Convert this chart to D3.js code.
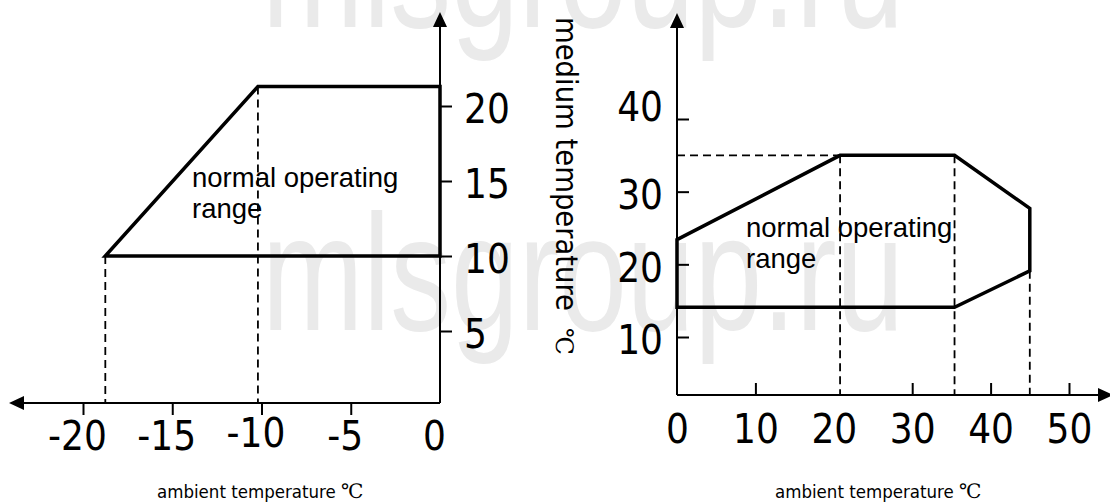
<!DOCTYPE html>
<html>
<head>
<meta charset="utf-8">
<script src="https://cdn.jsdelivr.net/npm/d3@7"></script>
<style>
  html, body { margin: 0; padding: 0; background: #fff; }
  svg { display: block; }
</style>
</head>
<body>
<svg id="chart" width="1110" height="504"></svg>
<script>
// ---------------- data ----------------
// Left chart (ambient -20..0 °C, medium 5..20 °C)
const leftXTicks = [-20, -15, -10, -5, 0];
const leftYTicks = [5, 10, 15, 20];
const leftRangeX = [-18.75, -10.2, 0, 0];      // polygon vertices, ambient temperature
const leftRangeY = [10, 21.3, 21.3, 10];        // polygon vertices, medium temperature
const leftGuideX = [-18.75, -10.2];             // dashed verticals
const leftGuideY = [10, 21.3];

// Right chart (ambient 0..50 °C, medium 10..40 °C)
const rightXTicks = [0, 10, 20, 30, 40, 50];
const rightYTicks = [10, 20, 30, 40];
const rightRangeX = [0, 20.8, 35.4, 45, 45, 35.4, 0];
const rightRangeY = [23.4, 35, 35, 27.7, 19.1, 14.1, 14.1];
const rightGuideX = [20.8, 35.4, 45];
const rightGuideY = [35, 35, 19.1];

const rangeLabel = ["normal operating", "range"];
const xTitle = "ambient temperature";
const yTitle = "medium temperature";
const unit = "\u2103";
const watermark = "mlsgroup.ru";

// ---------------- layout ----------------
const svg = d3.select("#chart");
const numFont = "'DejaVu Sans Condensed', 'DejaVu Sans', sans-serif";
const numSize = 40;
// small hand-drawn offsets of individual tick labels in the original (px)
const leftXLabelNudge = { "-10": -3 };
const rightYLabelNudge = { "40": -15 };

// watermarks (behind)
const wm = svg.append("g").attr("fill", "#eaeaea")
  .attr("font-family", "'Liberation Sans', Arial, sans-serif").attr("font-size", 165);
wm.append("text").attr("x", 262).attr("y", 330).attr("textLength", 642)
  .attr("lengthAdjust", "spacingAndGlyphs").text(watermark);
wm.append("text").attr("x", 262).attr("y", 27).attr("textLength", 642)
  .attr("lengthAdjust", "spacingAndGlyphs").text(watermark);

// scales
const xL = d3.scaleLinear().domain([-20, 0]).range([83, 440]);
const yL = d3.scaleLinear().domain([5, 20]).range([331, 106]);
const xR = d3.scaleLinear().domain([0, 50]).range([677, 1069]);
const yR = d3.scaleLinear().domain([10, 40]).range([337, 119]);

const L = { x0: 440, axisY: 403, top: 12, left: 9 };
const R = { x0: 677, axisY: 395, top: 13, right: 1113 };

function arrowHead(g, tipX, tipY, dir) {
  const len = 15, half = 7;
  let pts;
  if (dir === "up") pts = [[tipX, tipY], [tipX - half, tipY + len], [tipX + half, tipY + len]];
  if (dir === "left") pts = [[tipX, tipY], [tipX + len, tipY - half], [tipX + len, tipY + half]];
  if (dir === "right") pts = [[tipX, tipY], [tipX - len, tipY - half], [tipX - len, tipY + half]];
  g.append("path").attr("d", "M" + pts.join("L") + "Z").attr("fill", "#000");
}

function styleAxis(g) {
  g.select(".domain").remove();
  g.selectAll(".tick line").attr("stroke", "#000").attr("stroke-width", 2);
  g.selectAll(".tick text").attr("fill", "#000")
    .attr("font-family", numFont).attr("font-size", numSize);
}

// ---------- LEFT CHART ----------
const gl = svg.append("g");
gl.selectAll("line.guide").data(leftGuideX).enter().append("line")
  .attr("x1", d => xL(d)).attr("x2", d => xL(d))
  .attr("y1", (d, i) => yL(leftGuideY[i])).attr("y2", L.axisY)
  .attr("stroke", "#000").attr("stroke-width", 1.8).attr("stroke-dasharray", "8,5");

gl.append("line").attr("x1", L.x0).attr("x2", L.left + 14).attr("y1", L.axisY).attr("y2", L.axisY)
  .attr("stroke", "#000").attr("stroke-width", 2);
arrowHead(gl, L.left, L.axisY, "left");
gl.append("line").attr("x1", L.x0).attr("x2", L.x0).attr("y1", L.axisY).attr("y2", L.top + 14)
  .attr("stroke", "#000").attr("stroke-width", 2);
arrowHead(gl, L.x0, L.top, "up");

const lxAxis = gl.append("g").attr("transform", `translate(0,${L.axisY})`)
  .call(d3.axisBottom(xL).tickValues(leftXTicks).tickSize(12));
styleAxis(lxAxis);
lxAxis.selectAll(".tick").filter(d => d === 0).select("line").remove();
lxAxis.selectAll(".tick text").attr("y", d => 47 + (leftXLabelNudge[d] || 0)).attr("dy", 0).attr("x", -6)
  .text(d => d < 0 ? "-" + Math.abs(d) : d);

const lyAxis = gl.append("g").attr("transform", `translate(${L.x0},0)`)
  .call(d3.axisRight(yL).tickValues(leftYTicks).tickSize(12));
styleAxis(lyAxis);
lyAxis.selectAll(".tick text").attr("x", 24).attr("dy", "0.42em").attr("text-anchor", "start");

const lpts = leftRangeX.map((x, i) => [xL(x), yL(leftRangeY[i])]);
gl.append("path").attr("d", d3.line()(lpts) + "Z")
  .attr("fill", "none").attr("stroke", "#000").attr("stroke-width", 3.5)
  .attr("stroke-linejoin", "miter");

const lt = gl.append("text").attr("font-family", "'Liberation Sans', Arial, sans-serif")
  .attr("font-size", 27.5).attr("fill", "#000");
lt.selectAll("tspan").data(rangeLabel).enter().append("tspan")
  .attr("x", 192).attr("y", (d, i) => 187 + i * 31).text(d => d);

const lxt = gl.append("text").attr("x", 157).attr("y", 498)
  .attr("font-family", numFont).attr("font-size", 18.5).attr("fill", "#000");
lxt.append("tspan").text(xTitle + " ");
lxt.append("tspan").attr("font-family", "'DejaVu Serif', 'Noto Sans CJK SC', serif")
  .attr("font-size", 20).text(unit);

// ---------- Y TITLE (between charts) ----------
const yt = svg.append("text").attr("transform", "translate(556,17) rotate(90)")
  .attr("font-family", numFont).attr("font-size", 30.5).attr("fill", "#000");
yt.append("tspan").text(yTitle);
yt.append("tspan").attr("x", 311).attr("font-family", "'DejaVu Serif', 'Noto Sans CJK SC', serif")
  .attr("font-size", 24).text(unit);

// ---------- RIGHT CHART ----------
const gr = svg.append("g");
gr.append("line").attr("x1", R.x0).attr("x2", xR(rightGuideX[0]))
  .attr("y1", yR(rightGuideY[0])).attr("y2", yR(rightGuideY[0]))
  .attr("stroke", "#000").attr("stroke-width", 1.8).attr("stroke-dasharray", "8,5");
gr.selectAll("line.guide").data(rightGuideX).enter().append("line")
  .attr("x1", d => xR(d)).attr("x2", d => xR(d))
  .attr("y1", (d, i) => yR(rightGuideY[i])).attr("y2", R.axisY)
  .attr("stroke", "#000").attr("stroke-width", 1.8).attr("stroke-dasharray", "8,5");

gr.append("line").attr("x1", R.x0).attr("x2", R.right - 14).attr("y1", R.axisY).attr("y2", R.axisY)
  .attr("stroke", "#000").attr("stroke-width", 2);
arrowHead(gr, R.right, R.axisY, "right");
gr.append("line").attr("x1", R.x0).attr("x2", R.x0).attr("y1", R.axisY).attr("y2", R.top + 14)
  .attr("stroke", "#000").attr("stroke-width", 2);
arrowHead(gr, R.x0, R.top, "up");

const rxAxis = gr.append("g").attr("transform", `translate(0,${R.axisY})`)
  .call(d3.axisBottom(xR).tickValues(rightXTicks).tickSize(-12));
styleAxis(rxAxis);
rxAxis.selectAll(".tick").filter(d => d === 0 || d === 20).select("line").remove();
rxAxis.selectAll(".tick text").attr("y", 48).attr("dy", 0);

const ryAxis = gr.append("g").attr("transform", `translate(${R.x0},0)`)
  .call(d3.axisLeft(yR).tickValues(rightYTicks).tickSize(-12));
styleAxis(ryAxis);
ryAxis.selectAll(".tick text").attr("x", -14).attr("y", d => rightYLabelNudge[d] || 0)
  .attr("dy", "0.42em").attr("text-anchor", "end");

const rpts = rightRangeX.map((x, i) => [xR(x), yR(rightRangeY[i])]);
gr.append("path").attr("d", d3.line()(rpts) + "Z")
  .attr("fill", "none").attr("stroke", "#000").attr("stroke-width", 3.5)
  .attr("stroke-linejoin", "miter");

const rt = gr.append("text").attr("font-family", "'Liberation Sans', Arial, sans-serif")
  .attr("font-size", 27.5).attr("fill", "#000");
rt.selectAll("tspan").data(rangeLabel).enter().append("tspan")
  .attr("x", 746).attr("y", (d, i) => 237 + i * 31).text(d => d);

const rxt = gr.append("text").attr("x", 775).attr("y", 498)
  .attr("font-family", numFont).attr("font-size", 18.5).attr("fill", "#000");
rxt.append("tspan").text(xTitle + " ");
rxt.append("tspan").attr("font-family", "'DejaVu Serif', 'Noto Sans CJK SC', serif")
  .attr("font-size", 20).text(unit);
</script>
</body>
</html>
